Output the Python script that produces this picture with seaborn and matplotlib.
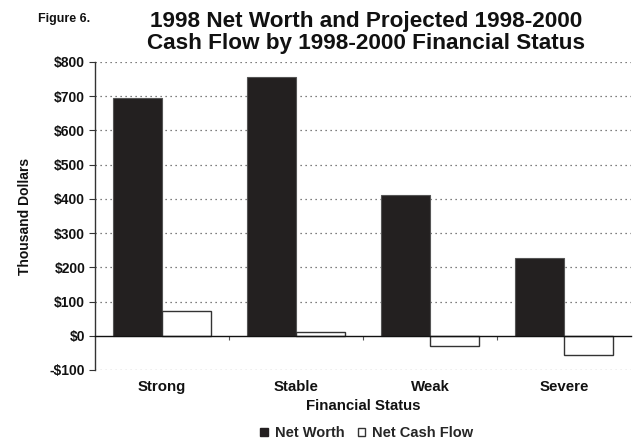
import matplotlib
matplotlib.use("Agg")
import matplotlib.pyplot as plt
import seaborn as sns
import pandas as pd
from matplotlib.ticker import FixedLocator, FuncFormatter
from matplotlib.patches import Patch

categories = ["Strong", "Stable", "Weak", "Severe"]
net_worth = [695, 755, 410, 227]
net_cash_flow = [73, 12, -29, -56]
series_names = ["Net Worth", "Net Cash Flow"]

df = pd.DataFrame({
    "Financial Status": categories * 2,
    "Value": net_worth + net_cash_flow,
    "Series": [series_names[0]] * 4 + [series_names[1]] * 4,
})

sns.set_theme(style="white")
plt.rcParams["font.family"] = ["Liberation Sans", "DejaVu Sans"]
plt.rcParams["font.weight"] = "bold"

fig = plt.figure(figsize=(6.36, 4.42), dpi=100)
ax = fig.add_axes([95 / 636, 72 / 442, 536 / 636, 308 / 442])

dark = "#231f20"
sns.barplot(data=df, x="Financial Status", y="Value", hue="Series",
            palette={"Net Worth": dark, "Net Cash Flow": "white"},
            width=0.73, gap=0, ax=ax, legend=False)

for i, bar in enumerate(ax.patches):
    if i < 4:
        bar.set_edgecolor("#555555")
        bar.set_linewidth(0.8)
    else:
        bar.set_edgecolor("#333333")
        bar.set_linewidth(1.0)

ax.set_ylim(-100, 800)
ax.set_xlim(-0.5, 3.5)
ax.yaxis.set_major_locator(FixedLocator(range(-100, 801, 100)))
ax.yaxis.set_major_formatter(FuncFormatter(
    lambda v, p: f"-${abs(int(v))}" if v < 0 else f"${int(v)}"))

for y in range(-100, 801, 100):
    if y != 0:
        ax.axhline(y, color="#555555", lw=0.9, ls=(0, (1, 3)), zorder=0)

for s in ["top", "right"]:
    ax.spines[s].set_visible(False)
ax.spines["left"].set_color("#333333")
ax.spines["left"].set_linewidth(1.0)
ax.spines["bottom"].set_position(("data", 0))
ax.spines["bottom"].set_color("#111111")
ax.spines["bottom"].set_linewidth(1.0)

ax.tick_params(axis="y", which="major", left=True, length=4, width=0.8,
               color="#333333", labelsize=10, pad=3)
ax.xaxis.set_minor_locator(FixedLocator([0.5, 1.5, 2.5]))
ax.tick_params(axis="x", which="minor", bottom=True, length=3, width=0.8,
               color="#555555")
ax.tick_params(axis="x", which="major", bottom=False, length=0,
               labelsize=10.8, pad=32)
for lab in ax.get_xticklabels() + ax.get_yticklabels():
    lab.set_fontweight("bold")
    lab.set_color("#111111")

ax.set_xlabel("Financial Status", fontsize=10.8, fontweight="bold",
              color="#111111", labelpad=3.5)
ax.set_ylabel("Thousand Dollars", fontsize=10, fontweight="bold",
              color="#111111", labelpad=13)

fig.text(0.10, 0.958, "Figure 6.", fontsize=9, fontweight="bold",
         ha="center", va="center", color="#111111")
fig.text(0.576, 0.927, "1998 Net Worth and Projected 1998-2000\nCash Flow by 1998-2000 Financial Status",
         fontsize=16.2, fontweight="bold", ha="center", va="center",
         linespacing=1.05, color="#111111")

handles = [Patch(facecolor=dark, edgecolor=dark, label="Net Worth"),
           Patch(facecolor="white", edgecolor="#333333", label="Net Cash Flow")]
fig.legend(handles=handles, loc="center", bbox_to_anchor=(0.577, 0.02),
           ncol=2, frameon=False, handlelength=0.5, handleheight=0.5,
           handletextpad=0.5, columnspacing=0.9,
           prop={"size": 10.5, "weight": "bold"})

fig.savefig("out.png", dpi=100)
